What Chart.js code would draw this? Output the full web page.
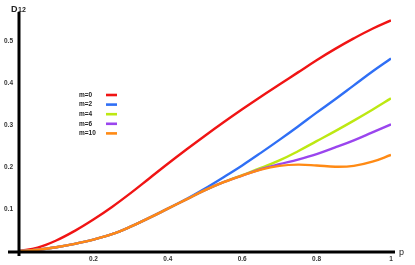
<!DOCTYPE html>
<html>
<head>
<meta charset="utf-8">
<script src="https://cdn.jsdelivr.net/npm/chart.js@4/dist/chart.umd.min.js"></script>
<style>
  html, body { margin: 0; padding: 0; background: #fff; }
  #wrap { width: 415px; height: 265px; position: relative; }
</style>
</head>
<body>
<div id="wrap"><canvas id="d12Chart"></canvas></div>
<script>
// ===== DATA =====
const pValues = [0, 0.05, 0.1, 0.15, 0.2, 0.25, 0.3, 0.35, 0.4, 0.45, 0.5,
                 0.55, 0.6, 0.65, 0.7, 0.75, 0.8, 0.85, 0.9, 0.95, 1];

const m0  = [0, 0.008, 0.025, 0.048, 0.075, 0.105, 0.138, 0.173, 0.208, 0.242, 0.275,
             0.307, 0.338, 0.368, 0.397, 0.426, 0.455, 0.482, 0.507, 0.53, 0.55];
const m2  = [0, 0.003, 0.009, 0.017, 0.027, 0.04, 0.058, 0.079, 0.101, 0.124, 0.149,
             0.176, 0.204, 0.234, 0.265, 0.297, 0.33, 0.362, 0.395, 0.428, 0.459];
const m4  = [0, 0.003, 0.009, 0.017, 0.027, 0.04, 0.058, 0.079, 0.101, 0.123, 0.145,
             0.164, 0.181, 0.198, 0.216, 0.238, 0.262, 0.286, 0.311, 0.337, 0.364];
const m6  = [0, 0.003, 0.009, 0.017, 0.027, 0.04, 0.058, 0.079, 0.101, 0.123, 0.145,
             0.164, 0.18, 0.195, 0.207, 0.218, 0.231, 0.247, 0.264, 0.283, 0.302];
const m10 = [0, 0.003, 0.009, 0.017, 0.027, 0.04, 0.058, 0.079, 0.101, 0.123, 0.145,
             0.164, 0.18, 0.194, 0.203, 0.206, 0.204, 0.201, 0.203, 0.213, 0.229];

const seriesNames = ['m=0', 'm=2', 'm=4', 'm=6', 'm=10'];
const seriesColors = ['#f01414', '#2f6ff5', '#bde812', '#9a45ee', '#ff8a14'];

const xTicks = [0.2, 0.4, 0.6, 0.8, 1];
const xTickLabels = ['0.2', '0.4', '0.6', '0.8', '1'];
const yTicks = [0.1, 0.2, 0.3, 0.4, 0.5];
const yTickLabels = ['0.1', '0.2', '0.3', '0.4', '0.5'];

// ===== BUILD DATASETS =====
const allSeries = [m0, m2, m4, m6, m10];
const datasets = allSeries.map((vals, i) => ({
    label: seriesNames[i],
    data: vals.map((v, k) => ({ x: pValues[k], y: v })),
    borderColor: seriesColors[i],
    borderWidth: 2.4,
    pointRadius: 0,
    fill: false,
    tension: 0.4,
    order: allSeries.length - 1 - i   // m=10 drawn on top
}));

// ===== AXES + LEGEND PLUGIN =====
const mathAxes = {
    id: 'mathAxes',
    afterDatasetsDraw(chart) {
        const ctx = chart.ctx;
        const xs = chart.scales.x, ys = chart.scales.y;
        const x0 = xs.getPixelForValue(0), y0 = ys.getPixelForValue(0);
        ctx.save();
        ctx.strokeStyle = '#000';
        ctx.lineWidth = 3;
        ctx.beginPath();
        ctx.moveTo(x0 - 11, y0 + 1); ctx.lineTo(xs.right + 4, y0 + 1);
        ctx.moveTo(x0, ys.top); ctx.lineTo(x0, y0 + 5);
        ctx.stroke();

        // axis names
        ctx.fillStyle = '#222';
        ctx.textBaseline = 'alphabetic';
        ctx.font = 'bold 9px "Liberation Sans", Arial, sans-serif';
        ctx.fillText('D', 11, 12);
        ctx.font = 'bold 7px "Liberation Sans", Arial, sans-serif';
        ctx.fillText('12', 18, 12);
        ctx.font = '9px "Liberation Sans", Arial, sans-serif';
        ctx.fillText('p', 399, 255);

        // legend
        ctx.font = 'bold 6.5px "Liberation Sans", Arial, sans-serif';
        ctx.textBaseline = 'middle';
        seriesNames.forEach((name, i) => {
            const yy = 95 + i * 9.6;
            ctx.fillStyle = '#222';
            ctx.fillText(name, 79, yy);
            ctx.strokeStyle = seriesColors[i];
            ctx.lineWidth = 2.6;
            ctx.beginPath();
            ctx.moveTo(106, yy); ctx.lineTo(117, yy);
            ctx.stroke();
        });
        ctx.restore();
    }
};

const tickFont = { family: '"Liberation Sans", Arial, sans-serif', size: 6.5, weight: 'bold' };

new Chart(document.getElementById('d12Chart'), {
    type: 'line',
    data: { datasets: datasets },
    options: {
        responsive: true,
        maintainAspectRatio: false,
        animation: false,
        layout: { padding: { left: 0, top: 12, right: 24, bottom: 0 } },
        plugins: { legend: { display: false }, tooltip: { enabled: false } },
        scales: {
            x: {
                type: 'linear', min: 0, max: 1,
                grid: { display: false, drawTicks: false },
                border: { display: false },
                afterBuildTicks: s => { s.ticks = xTicks.map(v => ({ value: v })); },
                afterFit: s => { s.height = 14; },
                ticks: {
                    padding: 4, color: '#333', font: tickFont, maxRotation: 0,
                    callback: (v) => xTickLabels[xTicks.indexOf(v)]
                }
            },
            y: {
                type: 'linear', min: 0, max: 0.57,
                grid: { display: false, drawTicks: false },
                border: { display: false },
                afterBuildTicks: s => { s.ticks = yTicks.map(v => ({ value: v })); },
                afterFit: s => { s.width = 19; },
                ticks: {
                    padding: 6, color: '#333', font: tickFont,
                    callback: (v) => yTickLabels[yTicks.indexOf(v)]
                }
            }
        }
    },
    plugins: [mathAxes]
});
</script>
</body>
</html>
